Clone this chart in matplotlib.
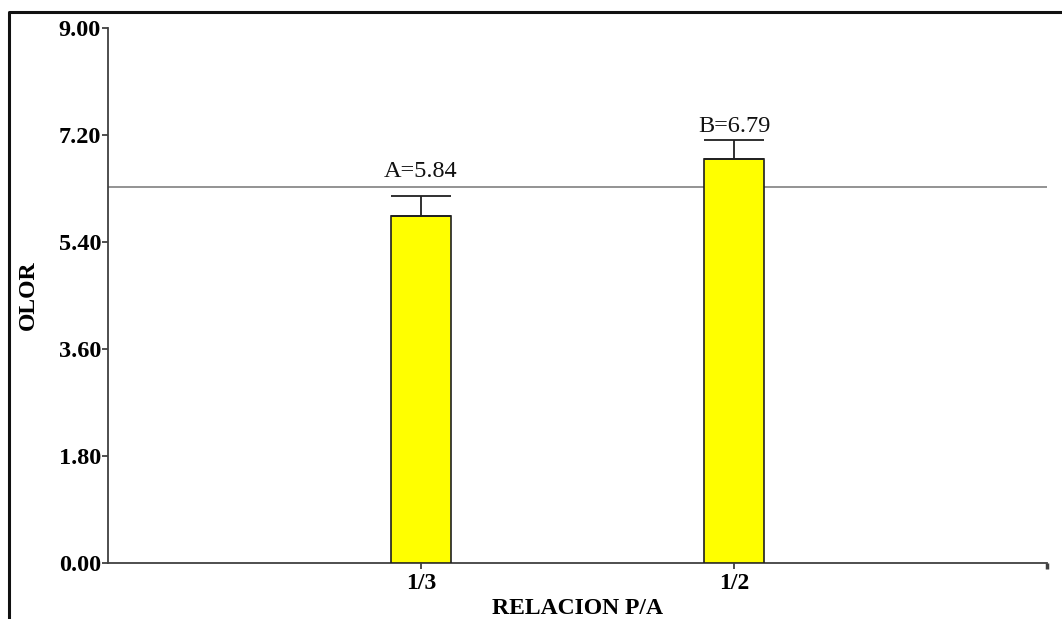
import matplotlib
matplotlib.use("Agg")
import matplotlib.pyplot as plt
from matplotlib.lines import Line2D

# data
groups = ["1/3", "1/2"]
means = [5.84, 6.79]
errors_up = [0.33, 0.32]
letters = ["A", "B"]
grand_mean = 6.32
yticks = [0.0, 1.8, 3.6, 5.4, 7.2, 9.0]

# gap between error cap and its label (data units)
label_gap = [0.32, 0.14]

plt.rcParams["font.family"] = ["Liberation Serif", "DejaVu Serif"]
spine_col = "#404040"

fig = plt.figure(figsize=(10.62, 6.19), dpi=100)
ax = fig.add_axes([108 / 1062, 56 / 619, 939 / 1062, 535 / 619])

x = [1, 2]
ax.bar(x, means, width=0.19, color="#ffff00", edgecolor="#202020", linewidth=1.2, zorder=3)
ax.errorbar(x, means, yerr=[[0, 0], errors_up], fmt="none", ecolor="#202020",
            elinewidth=1.3, capsize=21.6, capthick=1.3, zorder=4)
ax.axhline(grand_mean, color="#8a8a8a", lw=1.3, zorder=2)

for xi, m, e, let, g in zip(x, means, errors_up, letters, label_gap):
    ax.text(xi, m + e + g, f"{let}={m:.2f}", ha="center", va="baseline",
            fontsize=17.5, color="#111111")

ax.set_xlim(0, 3)
ax.set_ylim(0, 9)
ax.set_xticks(x)
ax.set_xticklabels(groups, fontsize=17, fontweight="bold")
ax.set_yticks(yticks)
ax.set_yticklabels([f"{v:.2f}" for v in yticks], fontsize=17.5, fontweight="bold")
ax.tick_params(axis="both", direction="out", length=4, width=1.3, color=spine_col, pad=1)
ax.tick_params(axis="x", pad=3)

for side in ["top", "right"]:
    ax.spines[side].set_visible(False)
for side in ["left", "bottom"]:
    ax.spines[side].set_color(spine_col)
    ax.spines[side].set_linewidth(1.3)

# small end mark on the x axis
ax.plot([3, 3], [0, -0.1], color=spine_col, lw=2.5, clip_on=False, solid_capstyle="butt")

ax.set_xlabel("RELACION P/A", fontsize=17, fontweight="bold", labelpad=3)
ax.set_ylabel("OLOR", fontsize=17, fontweight="bold", labelpad=14)

# outer frame (left and top edges)
fig.add_artist(Line2D([9 / 1062, 9 / 1062, 1.0], [0.0, 1 - 12 / 619, 1 - 12 / 619],
                      color="#111111", lw=2.2, transform=fig.transFigure))

fig.savefig("out.png", dpi=100)
